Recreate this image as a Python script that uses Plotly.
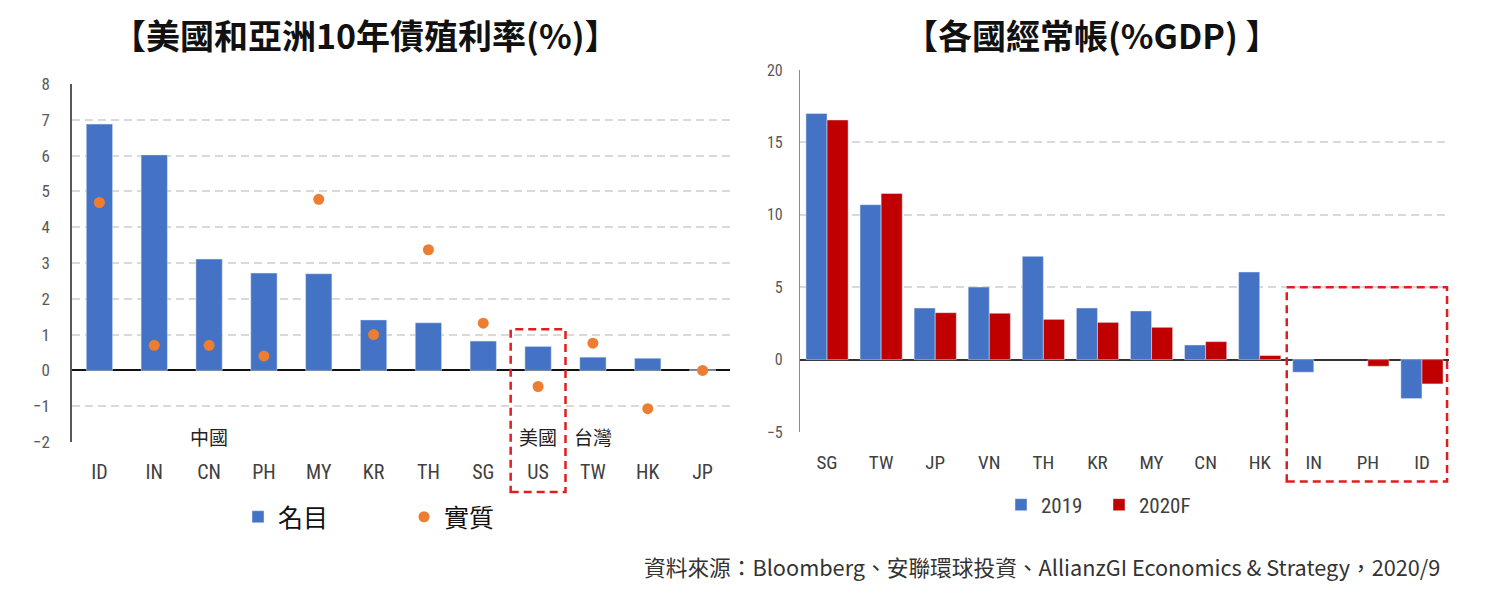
import plotly.graph_objects as go

# ---------------- data ----------------
yield_countries = ["ID", "IN", "CN", "PH", "MY", "KR", "TH", "SG", "US", "TW", "HK", "JP"]
nominal_yield = [6.88, 6.02, 3.11, 2.72, 2.70, 1.41, 1.33, 0.82, 0.67, 0.37, 0.34, 0.02]
real_yield = [4.69, 0.70, 0.70, 0.40, 4.78, 1.00, 3.37, 1.32, -0.45, 0.76, -1.07, 0.00]

ca_countries = ["SG", "TW", "JP", "VN", "TH", "KR", "MY", "CN", "HK", "IN", "PH", "ID"]
ca_2019 = [17.0, 10.7, 3.56, 5.01, 7.13, 3.56, 3.36, 1.01, 6.05, -0.87, None, -2.69]
ca_2020f = [16.55, 11.47, 3.24, 3.20, 2.78, 2.57, 2.23, 1.24, 0.28, None, -0.46, -1.68]

left_ticks = [-2, -1, 0, 1, 2, 3, 4, 5, 6, 7, 8]
right_ticks = [-5, 0, 5, 10, 15, 20]

# ---------------- style ----------------
W, H = 1493, 606
BLUE = "#4472C4"
ORANGE = "#ED7D31"
RED = "#C00000"
BOXRED = "#E01E1E"
GRID = "#D9D9D9"
NARROW = "Liberation Sans Narrow, Roboto Condensed, Liberation Sans, sans-serif"
CJK = "Noto Sans CJK TC, Noto Sans, sans-serif"

fig = go.Figure()

fig.add_trace(go.Bar(
    x=yield_countries, y=nominal_yield, name="名目", marker_color=BLUE,
    width=0.48, xaxis="x", yaxis="y", legend="legend",
))
fig.add_trace(go.Scatter(
    x=yield_countries, y=real_yield, name="實質", mode="markers",
    marker=dict(color=ORANGE, size=11), xaxis="x", yaxis="y", legend="legend",
))
fig.add_trace(go.Bar(
    x=ca_countries, y=ca_2019, name="2019", marker_color=BLUE,
    xaxis="x2", yaxis="y2", legend="legend2",
))
fig.add_trace(go.Bar(
    x=ca_countries, y=ca_2020f, name="2020F", marker_color=RED,
    xaxis="x2", yaxis="y2", legend="legend2",
))

axis_common = dict(showgrid=False, zeroline=False, ticks="", type="category", automargin=False)
fig.update_layout(
    width=W, height=H,
    margin=dict(l=0, r=0, t=0, b=0, autoexpand=False),
    paper_bgcolor="white", plot_bgcolor="white",
    barmode="group", bargap=0.22, bargroupgap=0,
    font=dict(family=CJK, color="#333333"),
    xaxis=dict(
        domain=[72 / W, 730 / W], anchor="y", range=[-0.5, 11.5],
        tickfont=dict(family=NARROW, size=20, color="#404040"),
        ticklabelstandoff=16, **axis_common,
    ),
    yaxis=dict(
        domain=[1 - 442 / H, 1 - 84 / H], anchor="x", range=[-2, 8],
        tickvals=left_ticks, ticks="", automargin=False,
        tickfont=dict(family=NARROW, size=17, color="#595959"),
        ticklabelstandoff=17,
        showgrid=True, gridcolor=GRID, gridwidth=1.5, griddash="8px,5px",
        zeroline=True, zerolinecolor="#111111", zerolinewidth=2.2,
        showline=True, linecolor="#595959", linewidth=1.5,
    ),
    xaxis2=dict(
        domain=[800 / W, 1449 / W], anchor="y2", range=[-0.5, 11.5],
        tickfont=dict(family=NARROW, size=19, color="#404040"),
        ticklabelstandoff=17, **axis_common,
    ),
    yaxis2=dict(
        domain=[1 - 432 / H, 1 - 70 / H], anchor="x2", range=[-5, 20],
        tickvals=right_ticks, ticks="", automargin=False,
        tickfont=dict(family=NARROW, size=16, color="#595959"),
        ticklabelstandoff=13,
        showgrid=True, gridcolor=GRID, gridwidth=1.5, griddash="8px,5px",
        zeroline=True, zerolinecolor="#333333", zerolinewidth=1.6,
        showline=True, linecolor="#8C8C8C", linewidth=1.2,
    ),
    legend=dict(
        orientation="h", x=238 / W, y=1 - 517 / H, xanchor="left", yanchor="middle",
        font=dict(family=CJK, size=25, color="#111111"),
        entrywidth=121, entrywidthmode="pixels", bgcolor="rgba(0,0,0,0)",
    ),
    legend2=dict(
        orientation="h", x=1001 / W, y=1 - 505 / H, xanchor="left", yanchor="middle",
        font=dict(family=NARROW, size=21, color="#404040"),
        entrywidth=53, entrywidthmode="pixels", bgcolor="rgba(0,0,0,0)",
    ),
)

# ---- titles, notes, source ----
annotations = [
    dict(text="【美國和亞洲10年債殖利率(%)】", x=365 / W, y=1 - 35 / H, xref="paper", yref="paper",
         xanchor="center", yanchor="middle", showarrow=False,
         font=dict(family=CJK, size=34, color="#111111", weight="bold")),
    dict(text="【各國經常帳(%GDP) 】", x=1092 / W, y=1 - 35 / H, xref="paper", yref="paper",
         xanchor="center", yanchor="middle", showarrow=False,
         font=dict(family=CJK, size=34, color="#111111", weight="bold")),
    dict(text="資料來源：Bloomberg、安聯環球投資、AllianzGI Economics & Strategy，2020/9",
         x=1442 / W, y=1 - 566 / H, xref="paper", yref="paper", xanchor="right", yanchor="middle",
         showarrow=False, font=dict(family=CJK, size=21.7, color="#333333")),
    dict(text="中國", x="CN", y=-1.86, xref="x", yref="y", showarrow=False, yanchor="middle",
         font=dict(family=CJK, size=19, color="#222222")),
    dict(text="美國", x="US", y=-1.86, xref="x", yref="y", showarrow=False, yanchor="middle",
         font=dict(family=CJK, size=19, color="#222222")),
    dict(text="台灣", x="TW", y=-1.86, xref="x", yref="y", showarrow=False, yanchor="middle",
         font=dict(family=CJK, size=19, color="#222222")),
]
fig.update_layout(annotations=annotations)

# ---- red dashed highlight boxes ----
n_left = len(yield_countries)
us_i = yield_countries.index("US")
n_right = len(ca_countries)
in_i = ca_countries.index("IN")
fig.add_shape(type="rect", xref="x domain", yref="y domain",
              x0=us_i / n_left, x1=(us_i + 1) / n_left, y0=-0.14, y1=0.315,
              line=dict(color=BOXRED, width=2.5, dash="8px,5px"), fillcolor="rgba(0,0,0,0)")
fig.add_shape(type="rect", xref="x2 domain", yref="y2 domain",
              x0=in_i / n_right, x1=0.997, y0=-0.137, y1=0.4,
              line=dict(color=BOXRED, width=2.5, dash="8px,5px"), fillcolor="rgba(0,0,0,0)")

fig.write_html("out.html", config={"displayModeBar": False},
               post_script="document.body.style.margin='0';")
